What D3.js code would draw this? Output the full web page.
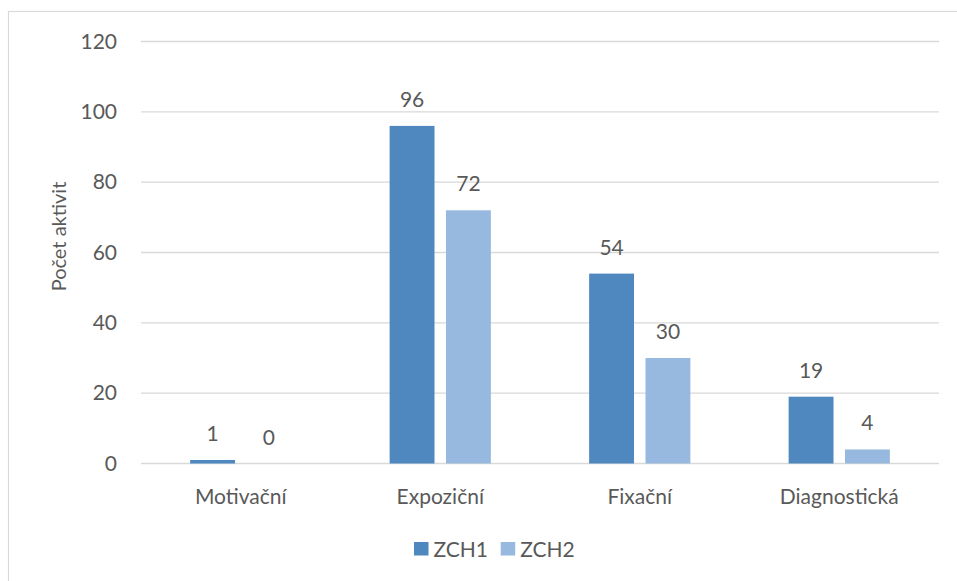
<!DOCTYPE html>
<html>
<head>
<meta charset="utf-8">
<script src="https://cdn.jsdelivr.net/npm/d3@7/dist/d3.min.js"></script>
<style>
  html, body { margin: 0; padding: 0; background: #fff; }
  svg { display: block; }
  text { font-family: Lato, "Open Sans", sans-serif; fill: #595959; }
</style>
</head>
<body>
<svg id="chart" width="957" height="581"></svg>
<script>
// Number of activities per type, for each group
const categories = ["Motivační", "Expoziční", "Fixační", "Diagnostická"];
const seriesNames = ["ZCH1", "ZCH2"];
const zch1 = [1, 96, 54, 19];
const zch2 = [0, 72, 30, 4];
const yTicks = [0, 20, 40, 60, 80, 100, 120];
const colors = ["#4f88bf", "#97b9e0"];

const FONT = "21px";
const FAMILY = "Lato, 'Open Sans', sans-serif";
const svg = d3.select("#chart");
const margin = { left: 141, right: 18, top: 41.5, bottom: 117.5 };
const W = 957, H = 581;

// chart frame
svg.append("rect")
  .attr("x", 8.5).attr("y", 11.5)
  .attr("width", 1000).attr("height", 1000)
  .attr("fill", "none").attr("stroke", "#d9d9d9").attr("stroke-width", 1.2);

const x = d3.scaleBand().domain(categories)
  .range([margin.left, W - margin.right]).paddingInner(0).paddingOuter(0);
const xs = d3.scaleBand().domain(seriesNames)
  .range([0, x.bandwidth()]).paddingInner(0.2035).paddingOuter(0.872);
const y = d3.scaleLinear().domain([0, 120]).range([H - margin.bottom, margin.top]);

// gridlines
svg.append("g").selectAll("line").data(yTicks).join("line")
  .attr("x1", margin.left).attr("x2", W - margin.right)
  .attr("y1", d => y(d)).attr("y2", d => y(d))
  .attr("stroke", "#d9d9d9").attr("stroke-width", 1.3);

// y axis tick labels
const yAxis = d3.axisLeft(y).tickValues(yTicks).tickSize(0).tickPadding(24);
const gy = svg.append("g").attr("transform", `translate(${margin.left},0)`).call(yAxis);
gy.select(".domain").remove();
gy.selectAll("text").style("font-size", FONT).attr("fill", "#595959")
  .style("font-family", FAMILY);

// x axis category labels
const xAxis = d3.axisBottom(x).tickSize(0).tickPadding(25.5);
const gx = svg.append("g").attr("transform", `translate(0,${y(0)})`).call(xAxis);
gx.select(".domain").remove();
gx.selectAll("text").style("font-size", FONT).attr("fill", "#595959")
  .style("font-family", FAMILY);

// bars
const rows = categories.map((c, i) => ({ cat: c, vals: [zch1[i], zch2[i]] }));
const groups = svg.append("g").selectAll("g").data(rows).join("g")
  .attr("transform", d => `translate(${x(d.cat)},0)`);
groups.selectAll("rect").data(d => d.vals.map((v, j) => ({ v, s: seriesNames[j], j })))
  .join("rect")
  .attr("x", d => xs(d.s)).attr("width", xs.bandwidth())
  .attr("y", d => y(d.v)).attr("height", d => y(0) - y(d.v))
  .attr("fill", d => colors[d.j]);

// value labels
groups.selectAll("text.val").data(d => d.vals.map((v, j) => ({ v, s: seriesNames[j] })))
  .join("text").attr("class", "val")
  .attr("x", d => xs(d.s) + xs.bandwidth() / 2)
  .attr("y", d => y(d.v) - 19)
  .attr("text-anchor", "middle")
  .style("font-size", FONT)
  .text(d => d.v);

// y axis title
svg.append("text")
  .attr("transform", `translate(66,236.5) rotate(-90)`)
  .attr("text-anchor", "middle")
  .style("font-size", "20px")
  .text("Počet aktivit");

// legend
const legend = svg.append("g").attr("transform", "translate(414,542)");
const items = legend.selectAll("g").data(seriesNames).join("g")
  .attr("transform", (d, i) => `translate(${i * 86.7},0)`);
items.append("rect").attr("width", 14.5).attr("height", 13.5).attr("fill", (d, i) => colors[i]);
items.append("text").attr("x", 19.5).attr("y", 14.5).style("font-size", FONT).text(d => d);
</script>
</body>
</html>
